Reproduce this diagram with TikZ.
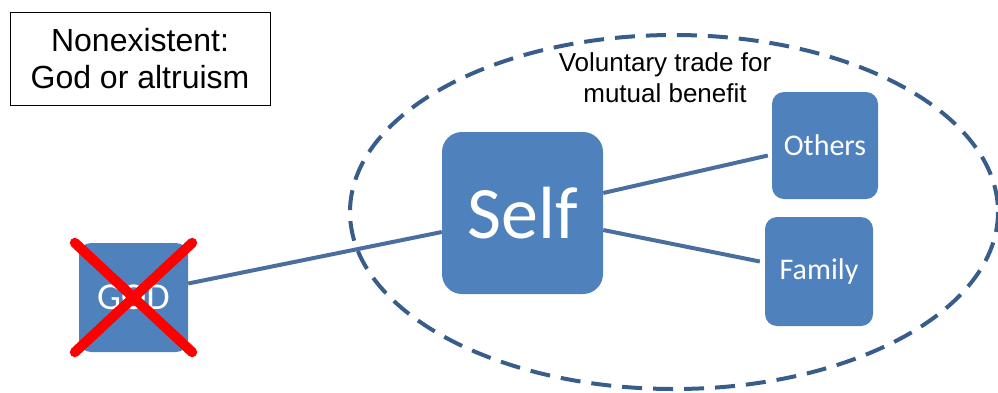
\documentclass[tikz,border=0pt]{standalone}
\usepackage{fontspec}
\setmainfont{Liberation Sans}
\newfontfamily\boxfont{Carlito}
\usetikzlibrary{calc}

\definecolor{boxblue}{HTML}{4F81BD}
\definecolor{linkblue}{HTML}{4A6E9E}
\definecolor{tradeblue}{HTML}{385D8A}

\begin{document}
\begin{tikzpicture}[x=1pt,y=-1pt,
	blockbox/.style={fill=boxblue, text=white, inner sep=0pt, align=center},
	link/.style={draw=linkblue, line width=4pt},
	crossline/.style={draw=red, line width=10pt, line cap=round}]
	\useasboundingbox (0,0) rectangle (998,392);
	
	% Note in the corner
	\node[draw=black, line width=1pt, minimum width=260pt, minimum height=93pt,
		inner sep=0pt, align=center, font=\fontsize{32}{37}\selectfont]
		(note) at (140,58.5) {Nonexistent:\\God or altruism};
	
	% Dashed ellipse: the trading circle
	\draw[tradeblue, line width=4pt, dash pattern=on 20pt off 11pt] (674,212) ellipse (324 and 177);
	\node[align=center, font=\fontsize{26}{31}\selectfont, inner sep=0pt] (tradelabel) at (665,78)
		{Voluntary trade for\\mutual benefit};
	
	% Boxes
	\node[blockbox, minimum width=161pt, minimum height=162pt, rounded corners=20pt,
		font=\boxfont\fontsize{74}{74}\selectfont] (self) at (522.5,213) {Self};
	\node[blockbox, minimum width=106pt, minimum height=107pt, rounded corners=12pt,
		font=\boxfont\fontsize{30}{30}\selectfont] (others) at (825,145.5) {Others};
	\node[blockbox, minimum width=108pt, minimum height=109pt, rounded corners=12pt,
		font=\boxfont\fontsize{30}{30}\selectfont] (family) at (819,271.5) {Family};
	\node[blockbox, minimum width=109pt, minimum height=109pt, rounded corners=12pt,
		font=\boxfont\fontsize{38}{38}\selectfont] (god) at (133.5,297.5) {GOD};
	
	% Links
	\draw[link] ([yshift=14pt]god.east) -- ([yshift=-19pt]self.west);
	\draw[link] ([yshift=20pt]self.east) -- ([xshift=-4pt,yshift=-10pt]others.west);
	\draw[link] ([yshift=-17pt]self.east) -- ([xshift=-5pt,yshift=10pt]family.west);
	
	% Crossed out
	\draw[crossline] ([xshift=-4pt]god.north west) -- ([xshift=4pt]god.south east);
	\draw[crossline] ([xshift=4pt]god.north east) -- ([xshift=-4pt]god.south west);
\end{tikzpicture}
\end{document}
